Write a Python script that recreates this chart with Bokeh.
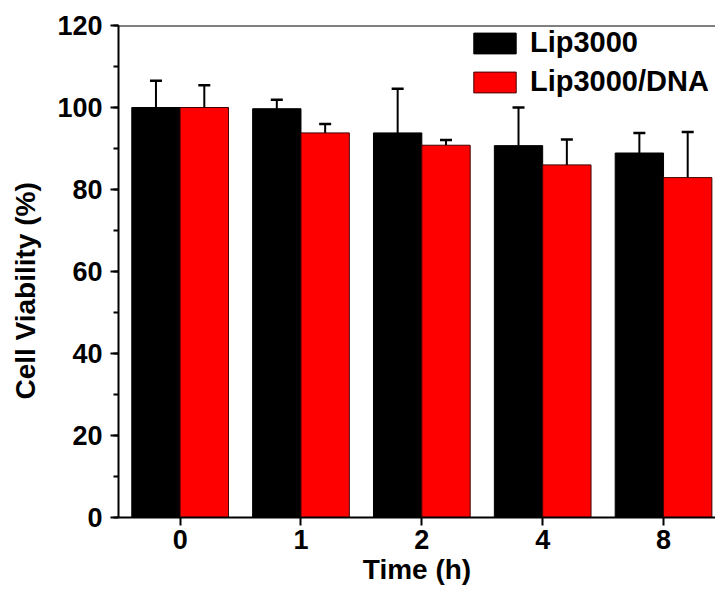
from bokeh.plotting import figure
from bokeh.models import (ColumnDataSource, FixedTicker, Whisker, TeeHead, Span, Legend,
                          LegendItem, Range1d)
from bokeh.embed import file_html
from bokeh.resources import INLINE

categories = ["0", "1", "2", "4", "8"]
lip3000 = [100.0, 99.7, 93.8, 90.7, 88.9]
lip3000_err = [6.5, 2.2, 10.8, 9.3, 4.9]
lip3000_dna = [100.0, 93.8, 90.8, 86.0, 82.9]
lip3000_dna_err = [5.4, 2.2, 1.3, 6.2, 11.1]
y_ticks = [0, 20, 40, 60, 80, 100, 120]

FONT = "Liberation Sans"
pos = list(range(len(categories)))
bw = 0.4

p = figure(width=715, height=592, output_backend="svg", toolbar_location=None,
           x_range=Range1d(-0.51, 4.43), y_range=Range1d(0, 120),
           min_border_left=118, min_border_right=0, min_border_top=25, min_border_bottom=75)
p.outline_line_color = None
p.grid.visible = False
p.background_fill_color = "white"

src1 = ColumnDataSource(dict(x=[i - bw / 2 for i in pos], top=lip3000,
                             up=[v + e for v, e in zip(lip3000, lip3000_err)]))
src2 = ColumnDataSource(dict(x=[i + bw / 2 for i in pos], top=lip3000_dna,
                             up=[v + e for v, e in zip(lip3000_dna, lip3000_dna_err)]))

for src in (src1, src2):
    w = Whisker(source=src, base="x", lower="top", upper="up", dimension="height",
                line_color="black", line_width=2,
                upper_head=TeeHead(size=12, line_width=2.5, line_color="black"), lower_head=None)
    p.add_layout(w)

r1 = p.vbar(x="x", top="top", width=bw, source=src1, fill_color="black", line_color="black", line_width=1)
r2 = p.vbar(x="x", top="top", width=bw, source=src2, fill_color="#ff0000", line_color="#400000", line_width=1)

p.add_layout(Span(location=120, dimension="width", line_color="black", line_width=2))

# axes
p.xaxis.ticker = FixedTicker(ticks=pos)
p.xaxis.major_label_overrides = {i: c for i, c in zip(pos, categories)}
p.xaxis.minor_tick_line_color = None
p.yaxis.ticker = FixedTicker(ticks=y_ticks, minor_ticks=list(range(0, 121, 10)))
for ax in (p.xaxis, p.yaxis):
    ax.axis_line_width = 2
    ax.axis_line_color = "black"
    ax.major_tick_line_width = 2
    ax.minor_tick_line_width = 2
    ax.major_tick_out = 8
    ax.major_tick_in = 0
    ax.minor_tick_out = 5
    ax.minor_tick_in = 0
    ax.major_label_text_font = FONT
    ax.major_label_text_font_style = "bold"
    ax.major_label_text_color = "black"
    ax.axis_label_text_font = FONT
    ax.axis_label_text_font_style = "bold"
    ax.axis_label_text_color = "black"
p.xaxis.major_label_text_font_size = "27px"
p.yaxis.major_label_text_font_size = "27px"
p.xaxis.axis_label = "Time (h)"
p.xaxis.axis_label_text_font_size = "28px"
p.xaxis.major_label_standoff = 4
p.xaxis.axis_label_standoff = 2
p.yaxis.major_label_standoff = 8
# trailing no-break spaces shift the centred label slightly downward, as in the reference
p.yaxis.axis_label = "Cell Viability (%)" + "\u00a0" * 5
p.yaxis.axis_label_text_font_size = "28px"
p.yaxis.axis_label_standoff = 13

legend = Legend(items=[LegendItem(label="Lip3000", renderers=[r1]),
                       LegendItem(label="Lip3000/DNA", renderers=[r2])],
                location=(350, 419), orientation="vertical")
legend.glyph_width = 53
legend.glyph_height = 26
legend.label_height = 26
legend.spacing = 6
legend.padding = 0
legend.margin = 0
legend.label_standoff = 9
legend.border_line_color = None
legend.background_fill_alpha = 0
legend.label_text_font = FONT
legend.label_text_font_style = "bold"
legend.label_text_font_size = "29px"
legend.label_text_color = "black"
p.add_layout(legend)

open("out.html", "w").write(file_html(p, INLINE))
